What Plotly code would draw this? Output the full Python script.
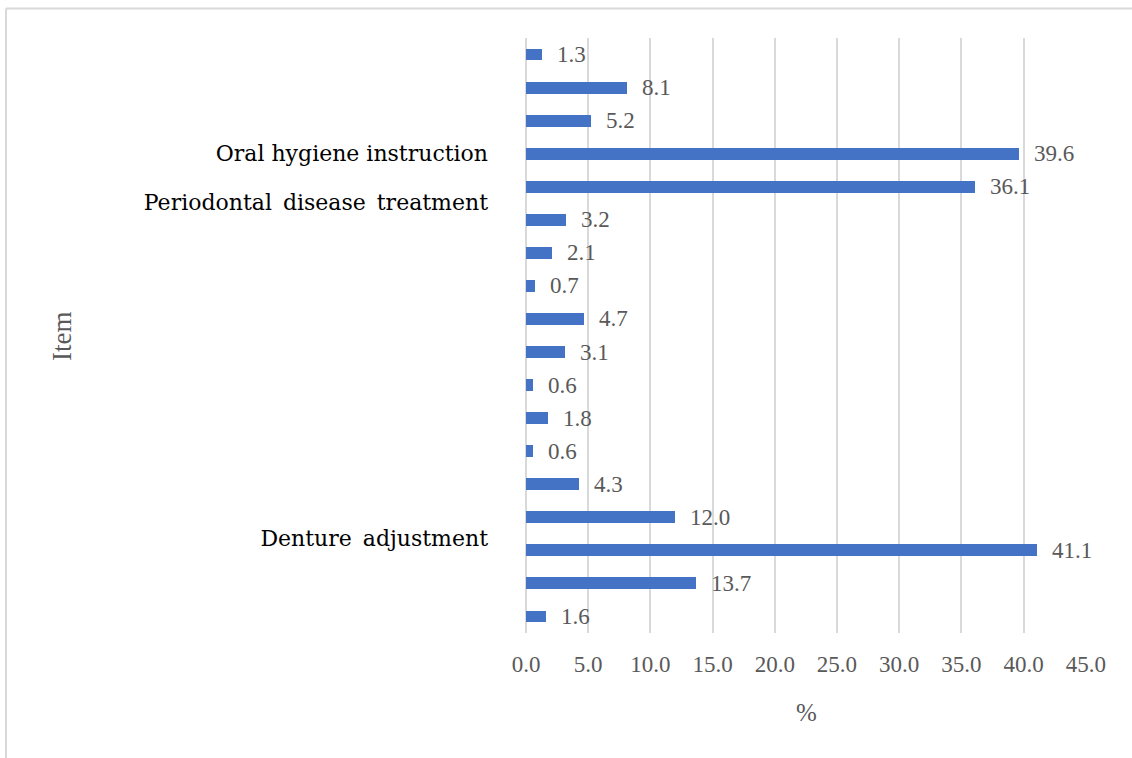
import plotly.graph_objects as go

# Share of respondents (%) for each item, listed top to bottom
values = [1.3, 8.1, 5.2, 39.6, 36.1, 3.2, 2.1, 0.7, 4.7, 3.1,
          0.6, 1.8, 0.6, 4.3, 12.0, 41.1, 13.7, 1.6]
positions = list(range(len(values)))

# Item names shown on the category axis and where they sit
item_labels = ["Oral hygiene instruction",
               "Periodontal\u2002disease\u2002treatment",
               "Denture\u2002adjustment"]
item_label_pos = [3, 4.48, 14.64]

x_ticks = [0, 5, 10, 15, 20, 25, 30, 35, 40, 45]
x_tick_text = [f"{v:.1f}" for v in x_ticks]

SERIF = "Liberation Serif, Times New Roman, serif"
WIDE_SERIF = "DejaVu Serif, serif"
GRAY = "#595959"
GRID = "#d9d9d9"

fig = go.Figure()
fig.add_trace(go.Bar(
    x=values,
    y=positions,
    orientation="h",
    width=0.36,
    marker=dict(color="#4472C4", line=dict(width=0)),
    hoverinfo="x",
))

# value labels to the right of each bar
for v, p in zip(values, positions):
    fig.add_annotation(
        x=v, y=p, xref="x", yref="y",
        text=f"{v:.1f}", showarrow=False,
        xanchor="left", yanchor="middle", xshift=13,
        font=dict(family=SERIF, size=23, color=GRAY),
    )

# axis titles
fig.add_annotation(
    x=0.5, y=-0.134, xref="paper", yref="paper",
    text="%", showarrow=False, xanchor="center", yanchor="middle",
    font=dict(family=SERIF, size=25, color=GRAY),
)
fig.add_annotation(
    x=-0.83, y=0.498, xref="paper", yref="paper",
    text="Item", showarrow=False, textangle=-90,
    xanchor="center", yanchor="middle",
    font=dict(family=SERIF, size=27, color=GRAY),
)

# outer chart frame (top and left edges)
frame = dict(color=GRID, width=2)
fig.add_shape(type="line", xref="paper", yref="paper",
              x0=-0.9286, x1=1.1, y0=1.0497, y1=1.0497, line=frame)
fig.add_shape(type="line", xref="paper", yref="paper",
              x0=-0.9286, x1=-0.9286, y0=1.0497, y1=-0.25, line=frame)

fig.update_layout(
    width=1132, height=758,
    margin=dict(l=526, r=46, t=38, b=125),
    paper_bgcolor="white", plot_bgcolor="white",
    showlegend=False,
    bargap=0,
    xaxis=dict(
        range=[0, 45.02],
        tickvals=x_ticks, ticktext=x_tick_text,
        showgrid=True, gridcolor=GRID, gridwidth=2,
        zeroline=True, zerolinecolor=GRID, zerolinewidth=2,
        showline=False, ticks="",
        ticklabelstandoff=15,
        tickfont=dict(family=SERIF, size=23, color=GRAY),
        fixedrange=True,
    ),
    yaxis=dict(
        range=[17.5, -0.5],
        tickvals=item_label_pos, ticktext=item_labels,
        showgrid=False, zeroline=False, showline=False, ticks="",
        ticklabelstandoff=37,
        tickfont=dict(family=WIDE_SERIF, size=22, color="#000000"),
        fixedrange=True,
    ),
)

fig.write_html("out.html")
